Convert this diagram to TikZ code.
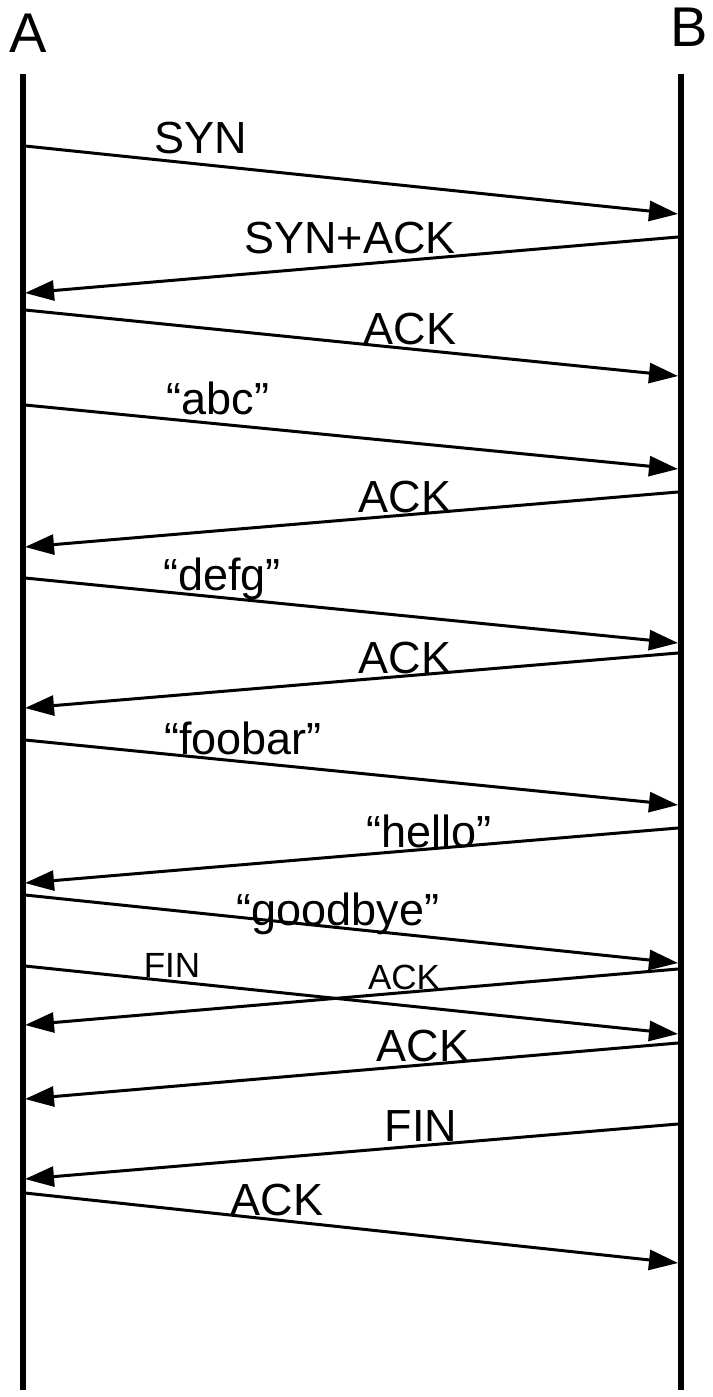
\documentclass[tikz,border=0pt]{standalone}
\usepackage{fontspec}
\setmainfont{Liberation Sans}
\usetikzlibrary{arrows.meta}
\begin{document}
\begin{tikzpicture}[x=1pt,y=-1pt,
  lifeline/.style={line width=5.5pt},
  msg/.style={line width=3pt,-{Triangle[length=29pt,width=20pt]}},
  peer/.style={font=\fontsize{56}{60}\selectfont,inner sep=0pt},
  lbl/.style={font=\fontsize{45}{50}\selectfont,inner sep=0pt,anchor=base},
  small/.style={font=\fontsize{35}{40}\selectfont,inner sep=0pt,anchor=base}]
\useasboundingbox (0,0) rectangle (712,1397);
% peers and their lifelines
\node[peer] (A) at (28,33) {A};
\node[peer] (B) at (689,27) {B};
\coordinate (Atop) at (23,74);
\coordinate (Abot) at (23,1390);
\coordinate (Btop) at (681,74);
\coordinate (Bbot) at (681,1390);
\draw[lifeline] (Atop) -- (Abot);
\draw[lifeline] (Btop) -- (Bbot);
% message end points (a = side A, b = side B)
\coordinate (a1) at (25,146);   \coordinate (b1) at (678,214);
\coordinate (b2) at (678,237);  \coordinate (a2) at (25,293);
\coordinate (a3) at (25,310);   \coordinate (b3) at (678,376);
\coordinate (a4) at (25,405);   \coordinate (b4) at (678,469);
\coordinate (b5) at (678,492);  \coordinate (a5) at (25,547);
\coordinate (a6) at (25,578);   \coordinate (b6) at (678,643);
\coordinate (b7) at (678,653);  \coordinate (a7) at (25,708);
\coordinate (a8) at (25,740);   \coordinate (b8) at (678,805);
\coordinate (b9) at (678,828);  \coordinate (a9) at (25,883);
\coordinate (a10) at (25,895);  \coordinate (b10) at (678,963);
\coordinate (a11) at (25,966);  \coordinate (b11) at (678,1034);
\coordinate (b12) at (678,969); \coordinate (a12) at (25,1025);
\coordinate (b13) at (678,1043);\coordinate (a13) at (25,1099);
\coordinate (b14) at (678,1124);\coordinate (a14) at (25,1179);
\coordinate (a15) at (25,1193); \coordinate (b15) at (678,1263);
% messages
\draw[msg] (a1) -- (b1);
\draw[msg] (b2) -- (a2);
\draw[msg] (a3) -- (b3);
\draw[msg] (a4) -- (b4);
\draw[msg] (b5) -- (a5);
\draw[msg] (a6) -- (b6);
\draw[msg] (b7) -- (a7);
\draw[msg] (a8) -- (b8);
\draw[msg] (b9) -- (a9);
\draw[msg] (a10) -- (b10);
\draw[msg] (a11) -- (b11);
\draw[msg] (b12) -- (a12);
\draw[msg] (b13) -- (a13);
\draw[msg] (b14) -- (a14);
\draw[msg] (a15) -- (b15);
% labels
\node[lbl] (l1) at (201,153) {SYN};
\node[lbl] (l2) at (350,253) {SYN+ACK};
\node[lbl] (l3) at (410,344) {ACK};
\node[lbl] (l4) at (218,414) {“abc”};
\node[lbl] (l5) at (405,512) {ACK};
\node[lbl] (l6) at (222,590) {“defg”};
\node[lbl] (l7) at (405,673) {ACK};
\node[lbl] (l8) at (243,754) {“foobar”};
\node[lbl] (l9) at (429,847) {“hello”};
\node[lbl] (l10) at (338,925) {“goodbye”};
\node[small] (l11) at (172,977) {FIN};
\node[small] (l12) at (404,989) {ACK};
\node[lbl] (l13) at (423,1061) {ACK};
\node[lbl] (l14) at (421,1141) {FIN};
\node[lbl] (l15) at (277,1215) {ACK};
\end{tikzpicture}
\end{document}
